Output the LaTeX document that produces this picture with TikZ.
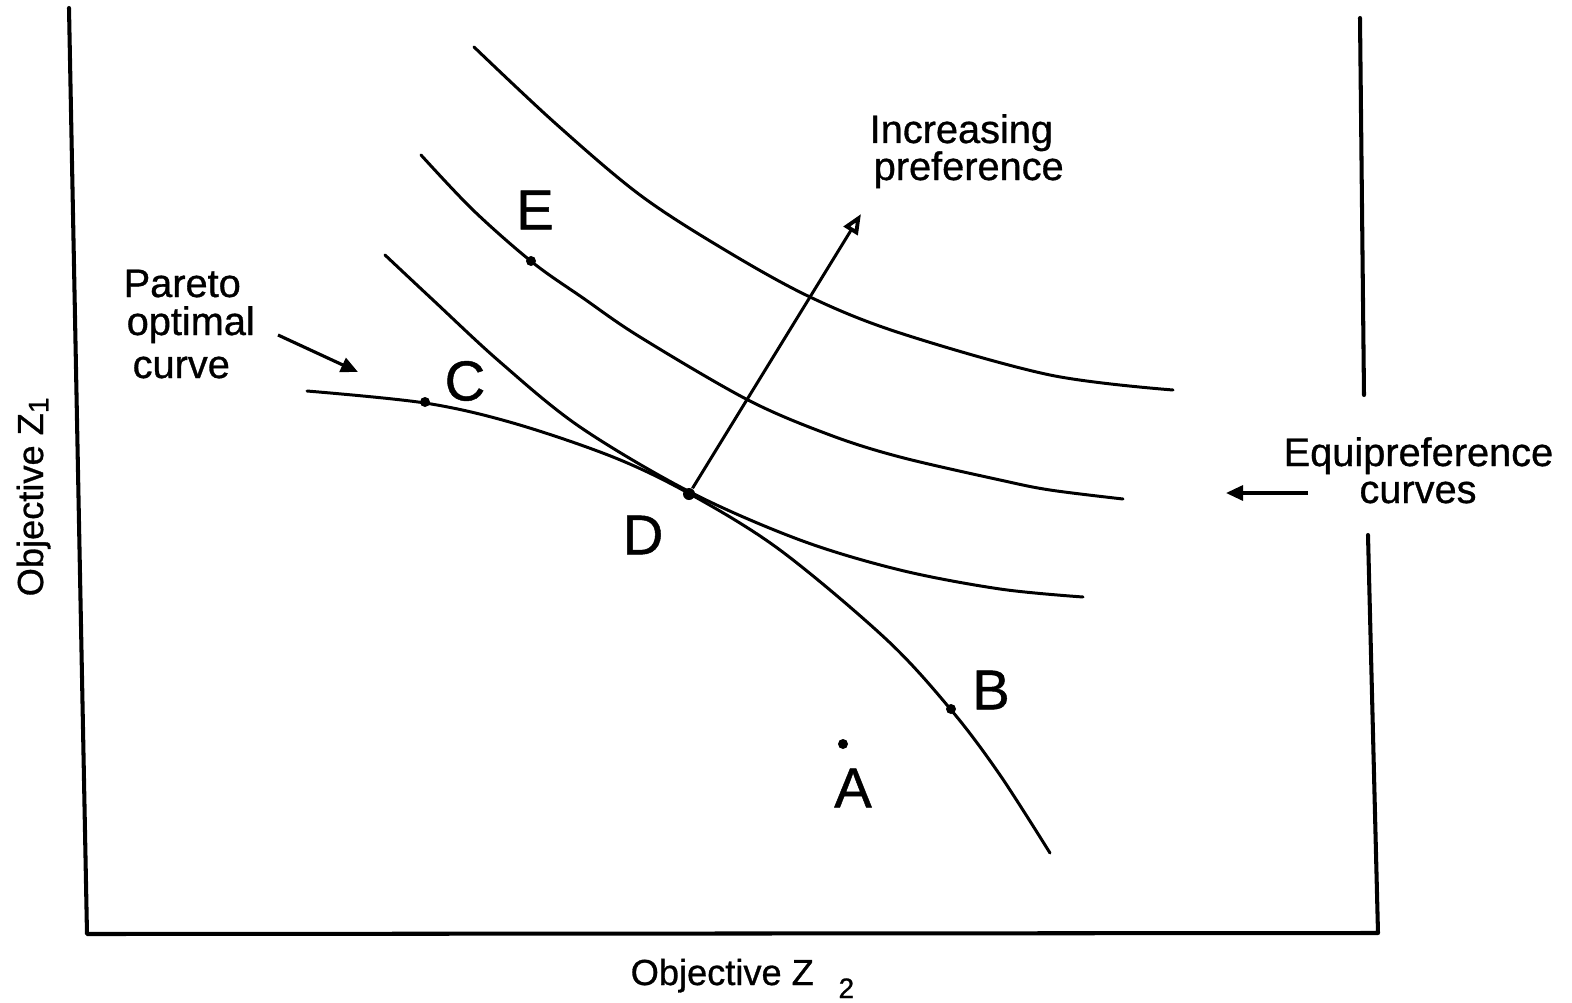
\documentclass[tikz,border=0pt]{standalone}
\usepackage{fontspec}
\setmainfont{Liberation Sans}[FakeBold=0.8]
\usetikzlibrary{arrows.meta}
\begin{document}
\begin{tikzpicture}[x=0.01cm,y=-0.01cm,
  curve/.style={line width=0.85pt, line cap=round, line join=round},
  axis/.style={line width=1.15pt, line cap=round, line join=round},
  dot/.style={circle, fill=black, inner sep=0pt, minimum size=0.1cm},
  lbl/.style={font=\fontsize{11.3pt}{13pt}\selectfont, inner sep=0pt},
  big/.style={font=\fontsize{16pt}{19pt}\selectfont, inner sep=0pt},
  axl/.style={font=\fontsize{10.3pt}{12pt}\selectfont, inner sep=0pt},
  ptr/.style={line width=0.9pt, -{Triangle[length=0.17cm,width=0.15cm]}},
]
\useasboundingbox (0,0) rectangle (1572,1003);
% axes
\coordinate (ltop) at (69,8);
\coordinate (lbot) at (87,934);
\coordinate (rbot) at (1378,933);
\coordinate (rmid) at (1368,535);
\coordinate (rtop) at (1360,18);
\coordinate (rtopend) at (1364,395);
\draw[axis] (ltop) -- (lbot) -- (rbot) -- (rmid);
\draw[axis] (rtop) -- (rtopend);
% Pareto optimal curve
\draw[curve] plot[smooth, tension=0.55] coordinates {(307,391) (425,403) (513,423) (613,457) (690,494) (780,550) (887,640) (952,711) (1000,775) (1050,853)};
% equipreference curves
\draw[curve] plot[smooth, tension=0.55] coordinates {(385,255) (433,300) (500,362) (580,427) (690,492) (800,540) (900,570) (1000,589) (1083,597)};
\draw[curve] plot[smooth, tension=0.55] coordinates {(421,155) (473,210) (532,262) (583,298) (640,337) (748,400) (830,435) (900,457) (1000,480) (1050,490) (1123,499)};
\draw[curve] plot[smooth, tension=0.55] coordinates {(474,47) (555,123) (640,195) (725,250) (810,297) (900,333) (1050,375) (1173,390)};
% points
\node[dot] (C) at (425,402) {};
\node[dot, minimum size=0.12cm] (D) at (689,494) {};
\node[dot] (E) at (531,261) {};
\node[dot] (B) at (951,709) {};
\node[dot] (A) at (843,744) {};
\node[big] (Clbl) at (465,381) {C};
\node[big] (Dlbl) at (643,535) {D};
\node[big] (Elbl) at (535,210) {E};
\node[big] (Blbl) at (991,690) {B};
\node[big] (Albl) at (853,788) {A};
% increasing preference arrow
\coordinate (inctip) at (861,214);
\draw[line width=0.85pt, -{Triangle[open,length=0.2cm,width=0.16cm,line width=1.1pt]}] (D) -- (inctip);
\node[lbl, anchor=base west] (inc1) at (869,143) {Increasing};
\node[lbl, anchor=base west] (inc2) at (873,180) {preference};
% Pareto label
\node[lbl, anchor=base west] (par1) at (123,297) {Pareto};
\node[lbl, anchor=base west] (par2) at (126,335) {optimal};
\node[lbl, anchor=base west] (par3) at (132,378) {curve};
\coordinate (pa1) at (278,335);
\coordinate (pa2) at (358,372);
\draw[ptr] (pa1) -- (pa2);
% Equipreference label
\node[lbl, anchor=base west] (eq1) at (1283,466) {Equipreference};
\node[lbl, anchor=base] (eq2) at (1418,503) {curves};
\coordinate (ea1) at (1308,493);
\coordinate (ea2) at (1226,493);
\draw[ptr] (ea1) -- (ea2);
% axis labels
\node[axl, anchor=base west] (xlbl) at (630,985) {Objective Z\hspace{7pt}\raisebox{-3.7pt}{\fontsize{8pt}{8pt}\selectfont 2}};
\node[axl, rotate=90, anchor=base west] (ylbl) at (43,597) {Objective Z\raisebox{-1.5pt}{\fontsize{8pt}{8pt}\selectfont 1}};
\end{tikzpicture}
\end{document}
